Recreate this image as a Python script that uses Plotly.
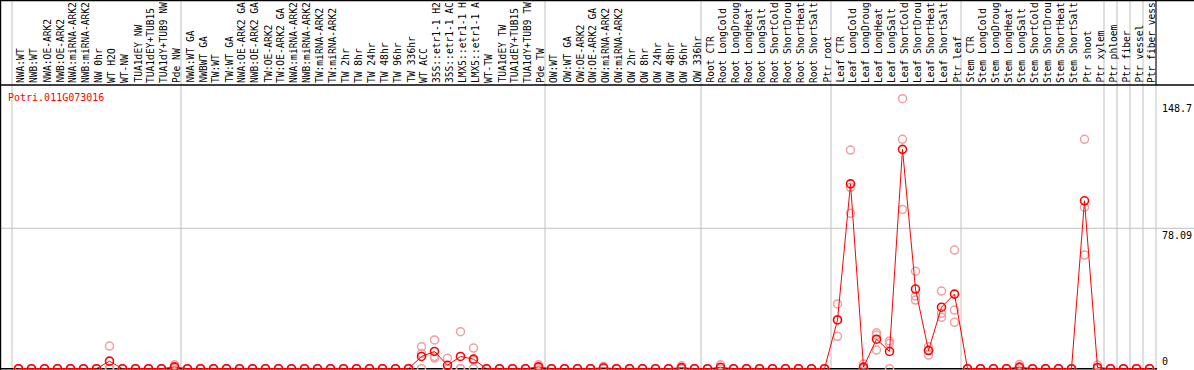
import plotly.graph_objects as go

# ---------------- data ----------------
gene_id = "Potri.011G073016"

# category labels as far as they are readable in the header (14 characters)
categories = [
    "NWA:WT", "NWB:WT", "NWA:OE-ARK2", "NWB:OE-ARK2", "NWA:miRNA-ARK2", "NWB:miRNA-ARK2",
    "NW 0hr", "WT H2O", "WT-NW", "TUA1dEY NW", "TUA1dEY+TUB15", "TUA1dY+TUB9 NW", "Pde NW",
    "NWA:WT GA", "NWBWT GA", "TW:WT", "TW:WT GA", "NWA:OE-ARK2 GA", "NWB:OE-ARK2 GA",
    "TW:OE-ARK2", "TW:OE-ARK2 GA", "NWA:miRNA-ARK2", "NWB:miRNA-ARK2", "TW:miRNA-ARK2",
    "TW:miRNA-ARK2", "TW 2hr", "TW 8hr", "TW 24hr", "TW 48hr", "TW 96hr", "TW 336hr",
    "WT ACC", "35S::etr1-1 H2", "35S::etr1-1 AC", "LMX5::etr1-1 H", "LMX5::etr1-1 A",
    "WT-TW", "TUA1dEY TW", "TUA1dEY+TUB15", "TUA1dY+TUB9 TW", "Pde TW",
    "OW:WT", "OW:WT GA", "OW:OE-ARK2", "OW:OE-ARK2 GA", "OW:miRNA-ARK2", "OW:miRNA-ARK2",
    "OW 2hr", "OW 8hr", "OW 24hr", "OW 48hr", "OW 96hr", "OW 336hr",
    "Root CTR", "Root LongCold", "Root LongDroug", "Root LongHeat", "Root LongSalt",
    "Root ShortCold", "Root ShortDrou", "Root ShortHeat", "Root ShortSalt", "Ptr root",
    "Leaf CTR", "Leaf LongCold", "Leaf LongDroug", "Leaf LongHeat", "Leaf LongSalt",
    "Leaf ShortCold", "Leaf ShortDrou", "Leaf ShortHeat", "Leaf ShortSalt", "Ptr leaf",
    "Stem CTR", "Stem LongCold", "Stem LongDroug", "Stem LongHeat", "Stem LongSalt",
    "Stem ShortCold", "Stem ShortDrou", "Stem ShortHeat", "Stem ShortSalt", "Ptr shoot",
    "Ptr xylem", "Ptr phloem", "Ptr fiber", "Ptr vessel", "Ptr fiber vess",
]

mean_values = [
    0, 0, 0, 0, 0, 0, 0, 4.2, 0, 0, 0, 0, 1.0,
    0, 0, 0, 0, 0, 0, 0, 0, 0, 0, 0, 0, 0, 0, 0, 0, 0, 0,
    6.8, 9.6, 1.9, 6.8, 5.3, 0, 0, 0, 0, 1.0,
    0, 0, 0, 0, 0.5, 0, 0, 0, 0, 0, 0.6, 0,
    0, 0.8, 0, 0, 0, 0, 0, 0, 0, 0,
    27.1, 102.8, 0.9, 16.4, 9.6, 122.0, 44.3, 10.1, 34.2, 41.5,
    0, 0, 0, 0, 0.9, 0, 0, 0, 0, 93.4,
    0.7, 0, 0, 0, 0,
]

rep1 = [
    0, 0, 0, 0, 0, 0, 0, 12.6, 0, 0, 0, 0, 2.2,
    0, 0, 0, 0, 0, 0, 0, 0, 0, 0, 0, 0, 0, 0, 0, 0, 0, 0,
    12.2, 16.0, 5.8, 20.6, 11.5, 0, 0, 0, 0, 2.2,
    0, 0, 0, 0, 1.3, 0, 0, 0, 0, 0, 1.6, 0,
    0, 2.2, 0, 0, 0, 0, 0, 0, 0, 0,
    36.0, 121.6, 2.6, 20.0, 15.4, 150.2, 54.2, 12.2, 43.2, 66.0,
    0, 0, 0, 0, 2.4, 0, 0, 0, 0, 127.6,
    2.0, 0, 0, 0, 0,
]

rep2 = [
    0, 0, 0, 0, 0, 0, 0, 0, 0, 0, 0, 0, 0.8,
    0, 0, 0, 0, 0, 0, 0, 0, 0, 0, 0, 0, 0, 0, 0, 0, 0, 0,
    8.4, 6.8, 0, 0, 4.5, 0, 0, 0, 0, 0.9,
    0, 0, 0, 0, 0.3, 0, 0, 0, 0, 0, 0.3, 0,
    0, 0.3, 0, 0, 0, 0, 0, 0, 0, 0,
    27.2, 100.9, 0.2, 18.7, 14.1, 127.6, 40.4, 10.4, 30.8, 32.6,
    0, 0, 0, 0, 0.4, 0, 0, 0, 0, 89.8,
    0.2, 0, 0, 0, 0,
]

rep3 = [
    0, 0, 0, 0, 0, 0, 0, 0, 0, 0, 0, 0, 0,
    0, 0, 0, 0, 0, 0, 0, 0, 0, 0, 0, 0, 0, 0, 0, 0, 0, 0,
    0, 5.9, 0, 0, 0, 0, 0, 0, 0, 0,
    0, 0, 0, 0, 0, 0, 0, 0, 0, 0, 0, 0,
    0, 0, 0, 0, 0, 0, 0, 0, 0, 0,
    18.0, 86.4, 0, 10.4, 0, 88.6, 38.2, 7.6, 28.6, 25.8,
    0, 0, 0, 0, 0, 0, 0, 0, 0, 63.2,
    0, 0, 0, 0, 0,
]

group_bounds = [0.5, 13.5, 41.5, 53.5, 63.5, 73.5, 84.5, 85.5, 86.5, 87.5, 88.5]
y_ticks = [0, 78.09, 148.7]
y_tick_text = ["0", "78.09", "148.7"]

# ---------------- layout geometry ----------------
W, H = 1194, 370
ML, MR, MT, MB = 0, 37, 85, 0
PW = W - ML - MR
PH = H - MT - MB
STEP = 13.0            # px per category
FIRST_PX = 18.5        # pixel of first category
x_lo = 1 - FIRST_PX / STEP
x_hi = x_lo + PW / STEP
PX_PER_UNIT = 1.798
y_lo = -1.3 / PX_PER_UNIT
y_hi = y_lo + PH / PX_PER_UNIT

FONT = "DejaVu Sans Mono"
RED = "#ff0000"
PINK = "#f0a0a0"
GRID = "#c0c0c0"

xs = list(range(1, len(categories) + 1))

fig = go.Figure()
fig.add_trace(go.Scatter(
    x=xs * 3, y=rep1 + rep2 + rep3, mode="markers",
    marker=dict(symbol="circle-open", size=8, color=PINK, line=dict(width=1.5)),
    hoverinfo="skip", showlegend=False,
))
fig.add_trace(go.Scatter(
    x=xs, y=mean_values, mode="lines+markers",
    line=dict(color=RED, width=1),
    marker=dict(symbol="circle-open", size=8, color=RED, line=dict(width=1.6)),
    showlegend=False, cliponaxis=False,
))

top_paper = H / PH
full_x = W / PW
shapes = []
for b in group_bounds:
    shapes.append(dict(type="line", xref="x", yref="paper", x0=b, x1=b, y0=0, y1=top_paper,
                       line=dict(color=GRID, width=1), layer="below"))
shapes.append(dict(type="line", xref="x", yref="paper", x0=group_bounds[-1], x1=group_bounds[-1],
                   y0=1, y1=top_paper, line=dict(color="black", width=1), layer="above"))
shapes.append(dict(type="line", xref="paper", yref="y", x0=0, x1=full_x, y0=y_ticks[1], y1=y_ticks[1],
                   line=dict(color=GRID, width=1), layer="below"))
shapes.append(dict(type="line", xref="paper", yref="paper", x0=0, x1=full_x, y0=1, y1=1,
                   line=dict(color="black", width=1.5)))
shapes.append(dict(type="line", xref="paper", yref="paper", x0=0, x1=full_x,
                   y0=(H - 0.5) / PH, y1=(H - 0.5) / PH, line=dict(color="black", width=1.5)))
shapes.append(dict(type="line", xref="paper", yref="y", x0=0, x1=1, y0=0, y1=0,
                   line=dict(color="black", width=1.5), layer="below"))
shapes.append(dict(type="line", xref="paper", yref="paper", x0=0.6 / PW, x1=0.6 / PW, y0=0, y1=top_paper,
                   line=dict(color="black", width=1.2), layer="below"))

annotations = []
for xv, name in zip(xs, categories):
    annotations.append(dict(x=xv, xref="x", y=1, yref="paper", text=name, textangle=-90,
                            xanchor="center", yanchor="bottom", showarrow=False, xshift=2,
                            font=dict(family=FONT, size=9.6, color="black")))
annotations.append(dict(x=0, xref="paper", y=1, yref="paper", text=gene_id, xanchor="left",
                        yanchor="top", xshift=6, yshift=-5, showarrow=False,
                        font=dict(family=FONT, size=10, color=RED)))
for v, t in zip(y_ticks, y_tick_text):
    annotations.append(dict(x=1, xref="paper", y=v, yref="y", text=t, xanchor="left",
                            yanchor="bottom" if v == 0 else "top", xshift=3, showarrow=False,
                            font=dict(family=FONT, size=10, color="black")))

fig.update_layout(
    width=W, height=H,
    margin=dict(l=ML, r=MR, t=MT, b=MB, pad=0),
    paper_bgcolor="white", plot_bgcolor="white",
    xaxis=dict(range=[x_lo, x_hi], showgrid=False, zeroline=False, showticklabels=False,
               showline=False, fixedrange=True),
    yaxis=dict(range=[y_lo, y_hi], showgrid=False, zeroline=False, showticklabels=False,
               showline=False, fixedrange=True),
    shapes=shapes, annotations=annotations, showlegend=False,
)

fig.write_html("out.html", config={"displayModeBar": False},
               post_script="document.body.style.margin='0px';document.body.style.overflow='hidden';")
